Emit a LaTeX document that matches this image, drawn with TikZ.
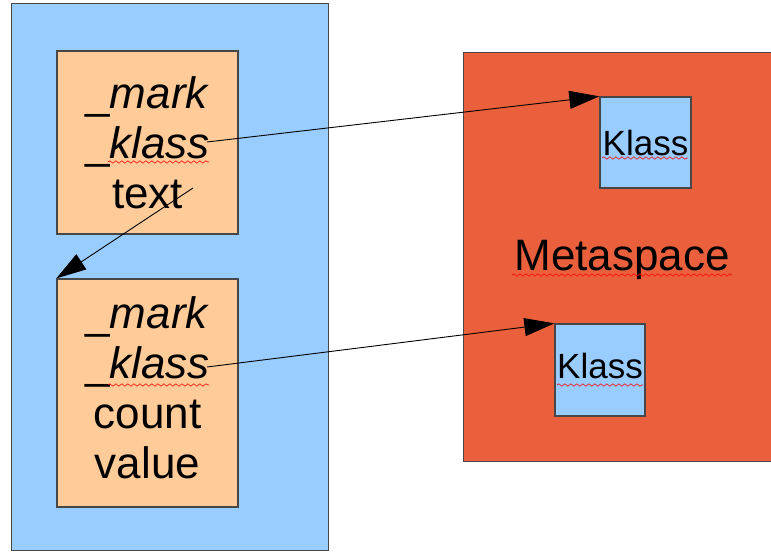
\documentclass[tikz,border=0pt]{standalone}
\usepackage{fontspec}
\setmainfont{Liberation Sans}
\usetikzlibrary{arrows.meta,decorations.pathmorphing}

\definecolor{heapblue}{HTML}{99CCFF}
\definecolor{objorange}{HTML}{FFCC99}
\definecolor{metared}{HTML}{EA603D}
\definecolor{edgegray}{HTML}{474747}

\tikzset{
  region/.style={draw=edgegray, line width=1.3pt, anchor=north west, inner sep=0pt},
  objbox/.style={draw=edgegray, fill=objorange, line width=1.3pt, inner sep=0pt,
    align=center, font=\fontsize{44}{50}\selectfont},
  klassbox/.style={draw=edgegray, fill=heapblue, line width=1.3pt, inner sep=0pt,
    font=\fontsize{35}{40}\selectfont},
  ptr/.style={draw=black, line width=0.9pt, -{Triangle[length=30pt,width=18pt]}},
  spell/.style={draw=red, line width=0.6pt,
    decorate, decoration={snake, amplitude=1.2pt, segment length=6pt}}
}

\begin{document}
\begin{tikzpicture}[x=1pt, y=-1pt]
  \useasboundingbox (0,0) rectangle (771,552);
  \clip (0,0) rectangle (771,552);

  % Java heap
  \node[region, fill=heapblue, minimum width=317pt, minimum height=547pt] (heap) at (11,3) {};

  % Metaspace
  \node[region, fill=metared, minimum width=320pt, minimum height=409pt] (meta) at (463,52) {};
  \node[anchor=base, font=\fontsize{44}{50}\selectfont] (metalabel) at (622,270) {Metaspace};

  % objects in the heap
  \node[objbox, minimum width=181pt, minimum height=183pt] (obj1) at (147.5,142.5)
    {\_\textit{mark}\\\_\textit{klass}\\text};
  \node[objbox, minimum width=181pt, minimum height=228pt, text depth=10pt] (obj2) at (147.5,393)
    {\_\textit{mark}\\\_\textit{klass}\\count\\value};

  % class metadata
  \node[klassbox, minimum width=91pt, minimum height=91pt] (klass1) at (645.5,142.5) {Klass};
  \node[klassbox, minimum width=90pt, minimum height=92pt, text depth=8pt] (klass2) at (600,370) {Klass};

  % spell-check squiggles
  \draw[spell] (108,162) -- (209,162);
  \draw[spell] (108,385) -- (209,385);
  \draw[spell] (602,158) -- (688,158);
  \draw[spell] (557,385) -- (643,385);
  \draw[spell] (512,275) -- (732,275);

  % pointer origins inside the fields
  \coordinate (k1src) at (207,142);
  \coordinate (k2src) at (207,367);
  \coordinate (nextsrc) at (193,188);

  % references
  \draw[ptr] (k1src) -- (klass1.north west);
  \draw[ptr] (nextsrc) -- (obj2.north west);
  \draw[ptr] (k2src) -- (klass2.north west);
\end{tikzpicture}
\end{document}
